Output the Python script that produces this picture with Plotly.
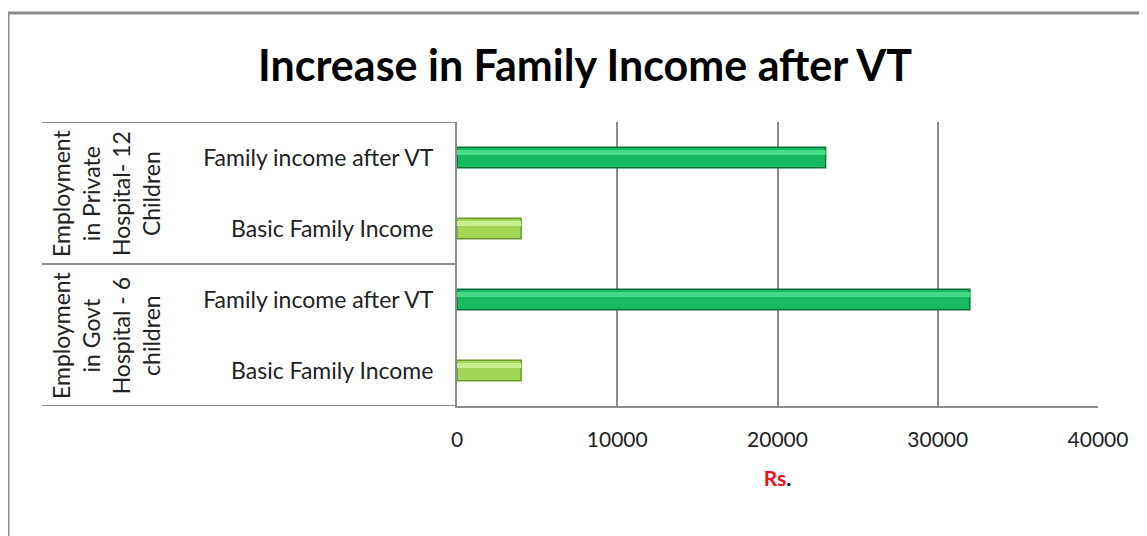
import plotly.graph_objects as go

# ---- data ----
groups = ["Employment<br>in Govt<br>Hospital - 6<br>children",
          "Employment<br>in Private<br>Hospital- 12<br>Children"]
series_names = ["Basic Family Income", "Family income after VT"]
basic_income = [4000, 4000]
after_vt_income = [32000, 23000]
x_ticks = [0, 10000, 20000, 30000, 40000]
title_text = "Increase in Family Income after VT"
x_title = "<span style='color:#E8141B'>Rs</span>."

# page has an 8px body margin; work in page pixels and convert
OFF = 8
W, H = 1147 - OFF, 536 - OFF
PL, PR, PT, PB = 457, 1098, 122, 406  # plot area in page pixels
L, T = PL - OFF, PT - OFF
R = W - (PR - OFF)
B = H - (PB - OFF)
pw, ph = PR - PL, PB - PT

def px_x(p):
    return (p - PL) / pw

def px_y(p):
    return (PB - p) / ph

n_series = len(series_names)
pos_basic = [g * n_series + 0 for g in range(len(groups))]
pos_after = [g * n_series + 1 for g in range(len(groups))]
tickvals, ticktext = [], []
for g in range(len(groups)):
    for s, name in enumerate(series_names):
        tickvals.append(g * n_series + s)
        ticktext.append(name)

font_fam = "Lato, 'Open Sans', sans-serif"
BW = 0.29

fig = go.Figure()
# main bars
fig.add_trace(go.Bar(
    x=basic_income, y=pos_basic, orientation="h", width=BW,
    name=series_names[0], hoverinfo="x+y",
    marker=dict(color="#A2D657", line=dict(color="#6E9A30", width=1.5)),
))
fig.add_trace(go.Bar(
    x=after_vt_income, y=pos_after, orientation="h", width=BW,
    name=series_names[1], hoverinfo="x+y",
    marker=dict(color="#17BA63", line=dict(color="#0B6F38", width=1.5)),
))
# bevel highlight bands (same data)
fig.add_trace(go.Bar(
    x=basic_income, y=pos_basic, orientation="h", width=0.07,
    offset=BW / 2 - 0.11, hoverinfo="skip",
    marker=dict(color="#C9EE8E", line=dict(width=0)),
))
fig.add_trace(go.Bar(
    x=after_vt_income, y=pos_after, orientation="h", width=0.07,
    offset=BW / 2 - 0.11, hoverinfo="skip",
    marker=dict(color="#45DC88", line=dict(width=0)),
))

shapes = []
for yv in [-0.5, 1.5, 3.5]:
    shapes.append(dict(type="line", xref="paper", yref="y",
                       x0=px_x(42), x1=0, y0=yv, y1=yv,
                       line=dict(color="#8C8C8C", width=2)))
# outer frame
shapes.append(dict(type="rect", xref="paper", yref="paper",
                   x0=px_x(OFF), x1=px_x(1300), y0=px_y(700), y1=px_y(13),
                   line=dict(color="#8C8C8C", width=3), layer="below"))

annotations = []
for g, label in enumerate(groups):
    annotations.append(dict(
        text=label, xref="paper", yref="y",
        x=px_x(106), y=g * n_series + (n_series - 1) / 2,
        xanchor="center", yanchor="middle",
        showarrow=False, textangle=-90,
        font=dict(family=font_fam, size=23, color="#222222"),
        align="center",
    ))

fig.update_layout(
    width=W, height=H,
    margin=dict(l=L, r=R, t=T, b=B, autoexpand=False),
    paper_bgcolor="white", plot_bgcolor="white",
    showlegend=False, barmode="overlay",
    title=dict(text=f"<b>{title_text}</b>", x=(585 - OFF) / W, xanchor="center",
               y=1 - (66 - OFF) / H, yanchor="middle", yref="container",
               font=dict(family=font_fam, size=43, color="#000000")),
    xaxis=dict(range=[0, 40000], tickvals=x_ticks,
               ticktext=[str(v) for v in x_ticks], showgrid=True,
               gridcolor="#8C8C8C", gridwidth=2, zeroline=False,
               showline=True, linecolor="#8C8C8C", linewidth=2, mirror=False,
               ticks="", ticklabelstandoff=14,
               tickfont=dict(family=font_fam, size=21, color="#222222"),
               title=dict(text=x_title, standoff=21,
                          font=dict(family=font_fam, size=21, color="#000000", weight="bold"))),
    yaxis=dict(range=[-0.5, 3.5], tickvals=tickvals, ticktext=ticktext,
               showgrid=False, zeroline=False, showline=True,
               linecolor="#8C8C8C", linewidth=2, ticks="",
               ticklabelstandoff=17,
               tickfont=dict(family=font_fam, size=23, color="#222222")),
    shapes=shapes, annotations=annotations,
)

fig.write_html("out.html")
